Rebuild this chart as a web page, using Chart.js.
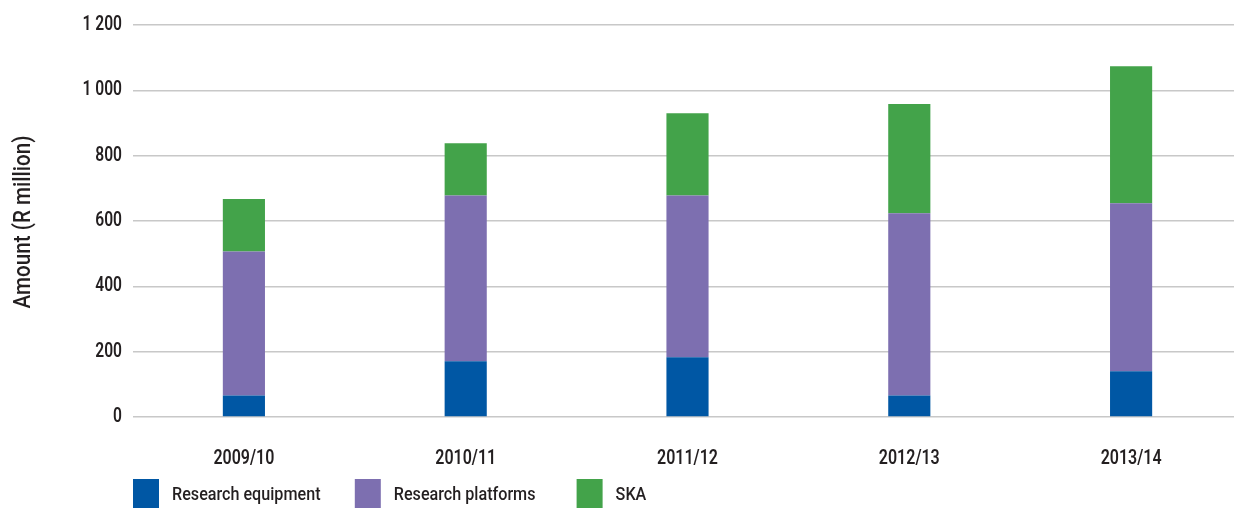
<!DOCTYPE html>
<html>
<head>
<meta charset="utf-8">
<script src="https://cdn.jsdelivr.net/npm/chart.js@4.4.1/dist/chart.umd.min.js"></script>
<style>
  html, body { margin: 0; padding: 0; background: #ffffff; overflow: hidden; }
  #wrap { position: relative; width: 1242px; height: 508px; }
</style>
</head>
<body>
<div id="wrap"><canvas id="chart"></canvas></div>
<script>
// Capital expenditure by year (R million)
const years = ['2009/10', '2010/11', '2011/12', '2012/13', '2013/14'];
const researchEquipment = [66, 171, 183, 66, 140];
const researchPlatforms = [441, 507, 495, 558, 514];
const ska = [160, 160, 252, 334, 420];
const yTickValues = [0, 200, 400, 600, 800, 1000, 1200];
const yTickLabels = ['0', '200', '400', '600', '800', '1 000', '1 200'];
const yTitle = 'Amount (R million)';

const FONT = 'Roboto, "Noto Sans", sans-serif';
const TEXT = '#231f20';

// Narrow lettering: draw text squeezed horizontally around its anchor
function condensed(ctx, text, x, y, align, sx) {
  ctx.save();
  ctx.translate(x, y);
  ctx.scale(sx, 1);
  ctx.textAlign = align;
  ctx.fillText(text, 0, 0);
  ctx.restore();
}

// Axis labels, axis title and a legend aligned to the category columns
const narrowText = {
  id: 'narrowText',
  afterDraw(chart) {
    const { ctx, chartArea, scales } = chart;
    ctx.save();
    ctx.fillStyle = TEXT;
    ctx.textBaseline = 'middle';

    // value axis labels
    ctx.font = '600 20px ' + FONT;
    yTickValues.forEach((v, i) => {
      condensed(ctx, yTickLabels[i], chartArea.left - 11, scales.y.getPixelForValue(v), 'right', 0.78);
    });

    // category labels
    years.forEach((label, i) => {
      condensed(ctx, label, scales.x.getPixelForValue(i), chartArea.bottom + 42, 'center', 0.8);
    });

    // rotated axis title
    ctx.font = '500 24px ' + FONT;
    ctx.save();
    ctx.translate(24, (chartArea.top + chartArea.bottom) / 2 + 1);
    ctx.rotate(-Math.PI / 2);
    condensed(ctx, yTitle, 0, 0, 'center', 0.86);
    ctx.restore();

    // legend: one entry per category column
    const colW = (chartArea.right - chartArea.left) / years.length;
    const boxW = 26, boxH = 30, top = 479;
    ctx.font = '500 19px ' + FONT;
    chart.data.datasets.forEach((ds, i) => {
      const x = chartArea.left + i * colW;
      ctx.fillStyle = ds.backgroundColor;
      ctx.fillRect(x, top, boxW, boxH);
      ctx.fillStyle = TEXT;
      condensed(ctx, ds.label, x + 39, top + 16, 'left', 0.85);
    });
    ctx.restore();
  }
};

new Chart(document.getElementById('chart'), {
  type: 'bar',
  data: {
    labels: years,
    datasets: [
      { label: 'Research equipment', data: researchEquipment, backgroundColor: '#0057a4' },
      { label: 'Research platforms', data: researchPlatforms, backgroundColor: '#7d6fb0' },
      { label: 'SKA', data: ska, backgroundColor: '#43a34a' }
    ]
  },
  options: {
    responsive: true,
    maintainAspectRatio: false,
    animation: false,
    layout: { padding: { top: 25, right: 0, bottom: 0, left: 0 } },
    datasets: { bar: { categoryPercentage: 1, barPercentage: 0.19 } },
    plugins: {
      legend: { display: false },
      tooltip: { enabled: false }
    },
    scales: {
      x: {
        stacked: true,
        grid: { display: false, drawTicks: false },
        border: { display: false },
        ticks: { display: false },
        afterFit(scale) { scale.height = 91; }
      },
      y: {
        stacked: true,
        min: 0,
        max: 1200,
        grid: { color: '#c8c8c8', lineWidth: 1.5, drawTicks: false },
        border: { display: false },
        ticks: { display: false, stepSize: 200 },
        afterFit(scale) { scale.width = 133; }
      }
    }
  },
  plugins: [narrowText]
});
</script>
</body>
</html>
